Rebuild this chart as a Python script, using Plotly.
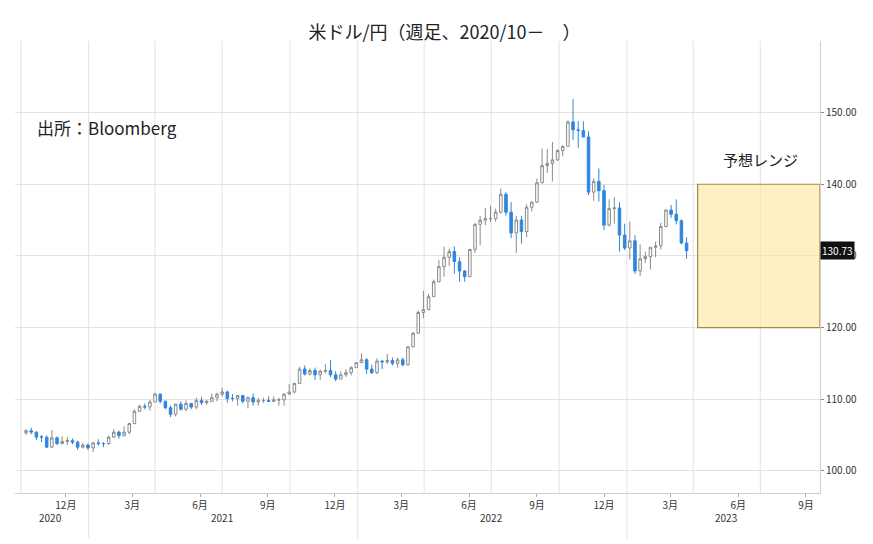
import plotly.graph_objects as go
import pandas as pd

first_open = 105.3
closes = [105.6,105.4,104.7,104.7,103.3,104.6,103.8,104.1,104.2,104.0,103.3,103.6,103.2,
103.9,103.8,103.8,104.7,105.4,104.9,105.4,106.6,108.3,109.0,108.9,109.6,110.7,109.7,108.8,107.9,109.3,108.6,109.4,108.9,109.8,109.5,109.7,110.2,110.7,111.0,110.1,110.1,110.5,109.7,110.2,109.6,109.8,109.8,109.7,109.9,109.9,110.7,111.0,112.2,114.2,113.5,114.0,113.4,113.9,114.0,113.4,112.8,113.4,113.7,114.4,115.1,
115.5,114.2,113.7,115.3,115.2,115.4,115.0,115.5,114.8,117.3,119.2,122.1,122.5,124.3,126.4,128.5,129.8,130.6,129.2,127.9,127.1,130.9,134.4,135.0,135.2,135.2,136.1,138.6,136.1,133.2,135.0,133.4,136.8,137.5,140.2,142.6,142.9,143.4,144.7,145.3,148.7,147.6,147.5,146.6,138.9,140.4,139.1,134.3,136.6,136.7,132.9,131.1,
132.1,127.9,129.6,129.9,131.2,131.4,134.1,136.4,135.8,134.9,131.8,130.73]
highs = [105.8,106.0,105.5,105.0,104.9,105.7,104.8,104.8,104.7,104.5,104.2,103.9,103.8,
104.0,104.4,104.0,104.9,105.8,105.6,106.2,106.7,108.6,109.2,109.4,109.9,110.9,110.8,109.8,109.1,109.4,109.7,109.8,109.4,110.2,110.3,109.9,110.8,110.9,111.6,111.2,110.7,110.6,110.6,110.4,110.8,110.2,110.2,110.4,110.4,110.2,110.8,112.1,112.3,114.5,114.7,114.3,114.4,114.1,114.9,115.5,113.9,113.9,114.2,114.6,115.2,
116.4,115.7,114.8,115.7,115.5,116.3,115.8,115.8,115.8,117.4,119.4,122.4,125.1,124.7,126.7,129.4,131.3,131.0,131.3,129.8,128.0,130.9,134.6,135.6,136.7,137.0,136.6,139.4,138.9,137.5,135.6,135.6,137.2,137.6,140.8,145.0,144.9,145.9,144.9,145.4,148.9,151.9,148.8,148.8,147.4,140.8,142.2,139.9,137.9,138.2,137.5,134.5,
134.8,132.9,131.6,130.6,131.2,132.0,134.6,136.5,137.1,137.9,135.1,132.6]
lows = [105.0,105.1,104.3,104.0,103.2,103.2,103.6,103.7,103.6,103.7,102.9,103.1,102.9,
102.6,103.5,103.3,103.6,104.6,104.5,104.8,105.1,106.5,108.2,108.6,108.4,109.6,109.4,108.6,107.5,107.6,108.4,108.3,108.6,108.6,109.2,109.2,109.6,109.7,110.4,109.5,109.7,109.1,109.4,108.7,109.1,109.1,109.5,109.6,109.6,109.1,109.1,110.7,110.8,112.1,113.3,113.3,112.7,112.7,113.6,113.1,112.5,112.8,113.1,113.3,114.4,
115.0,113.5,113.5,113.5,114.2,114.9,114.7,114.4,114.6,114.7,117.3,119.2,121.3,122.4,124.3,126.3,127.1,128.6,127.5,126.4,126.4,127.1,130.4,131.5,134.3,134.7,134.8,135.9,135.6,132.5,130.4,131.7,132.6,136.2,137.4,140.2,141.6,140.4,143.3,143.9,145.3,146.2,145.1,146.6,138.5,137.7,137.6,133.6,134.1,134.5,130.6,130.8,
129.5,127.5,127.2,129.0,128.1,129.8,130.9,134.0,135.3,134.4,131.6,129.6]
opens = [first_open] + closes[:-1]
dates = pd.date_range("2020-10-05", periods=len(closes), freq="W-MON") + pd.Timedelta(days=3)

month_ticks = ["2020-12-01","2021-03-01","2021-06-01","2021-09-01","2021-12-01","2022-03-01","2022-06-01","2022-09-01","2022-12-01","2023-03-01","2023-06-01","2023-09-01"]
month_labels = ["12月","3月","6月","9月"]*3
year_pos = ["2020-11-10","2021-07-01","2022-07-01","2023-05-15"]
year_labels = ["2020","2021","2022","2023"]
quarter_lines = ["2020-10-01","2021-01-01","2021-04-01","2021-07-01","2021-10-01","2022-01-01","2022-04-01","2022-07-01","2022-10-01","2023-01-01","2023-04-01","2023-07-01"]
x_start, x_end = "2020-09-23", "2023-09-20"
range_low, range_high = 120, 140
range_start = "2023-04-07"
last_price = 130.73

fig = go.Figure(go.Candlestick(
    x=dates, open=opens, high=highs, low=lows, close=closes,
    increasing=dict(fillcolor="white", line=dict(color="#8a8a8a", width=1)),
    decreasing=dict(fillcolor="#2f86dc", line=dict(color="#2f86dc", width=1)),
    whiskerwidth=0, showlegend=False))

for q in quarter_lines:
    fig.add_shape(type="line", x0=q, x1=q, y0=0, y1=1, xref="x", yref="paper",
                  line=dict(color="#e2e2e2", width=1), layer="below")
for q in ["2021-01-01","2022-01-01","2023-01-01"]:
    fig.add_shape(type="line", x0=q, x1=q, y0=0, y1=-0.1, xref="x", yref="paper",
                  line=dict(color="#e2e2e2", width=1))
fig.add_shape(type="rect", x0=range_start, x1=x_end, y0=range_low, y1=range_high,
              fillcolor="rgba(253,226,150,0.55)", line=dict(color="#a88a45", width=1.2))
fig.add_annotation(x="2023-07-01", y=143.5, text="予想レンジ", showarrow=False,
                   font=dict(size=15, color="#222"))
fig.add_annotation(xref="paper", yref="paper", x=0.025, y=0.84, xanchor="left",
                   text="出所：Bloomberg", showarrow=False, font=dict(size=17, color="#222"))
fig.add_annotation(xref="paper", x=1.0, y=last_price, xanchor="left", text="%.2f" % last_price,
                   showarrow=False, bgcolor="#111", font=dict(size=10, color="white"), borderpad=1)
for p, t in zip(year_pos, year_labels):
    fig.add_annotation(x=p, yref="paper", y=-0.075, text=t, showarrow=False,
                       font=dict(size=10, color="#333"))

fig.update_layout(
    width=873, height=544, paper_bgcolor="white", plot_bgcolor="white",
    margin=dict(l=7, r=61, t=33, b=59, autoexpand=False),
    title=dict(text="米ドル/円（週足、2020/10－　）", x=0.5, y=0.955, xanchor="center",
               yanchor="middle", font=dict(size=18, color="#222", family="Noto Sans CJK JP"),
               automargin=False),
    font=dict(family="Noto Sans CJK JP"),
    xaxis=dict(range=[x_start, x_end], rangeslider=dict(visible=False),
               tickvals=month_ticks, ticktext=month_labels, showgrid=False, automargin=False,
               tickfont=dict(size=10, color="#333"), ticks="outside", ticklen=3,
               tickcolor="#aaa", showline=True, linecolor="#cfcfcf"),
    yaxis=dict(side="right", range=[96.9, 160], tickvals=[100,110,120,130,140,150],
               tickformat=".2f", gridcolor="#e2e2e2", tickfont=dict(size=10, color="#333"),
               ticks="outside", ticklen=3, tickcolor="#888", showline=True, linecolor="#cfcfcf",
               zeroline=False, automargin=False),
)
fig.write_html("out.html")
